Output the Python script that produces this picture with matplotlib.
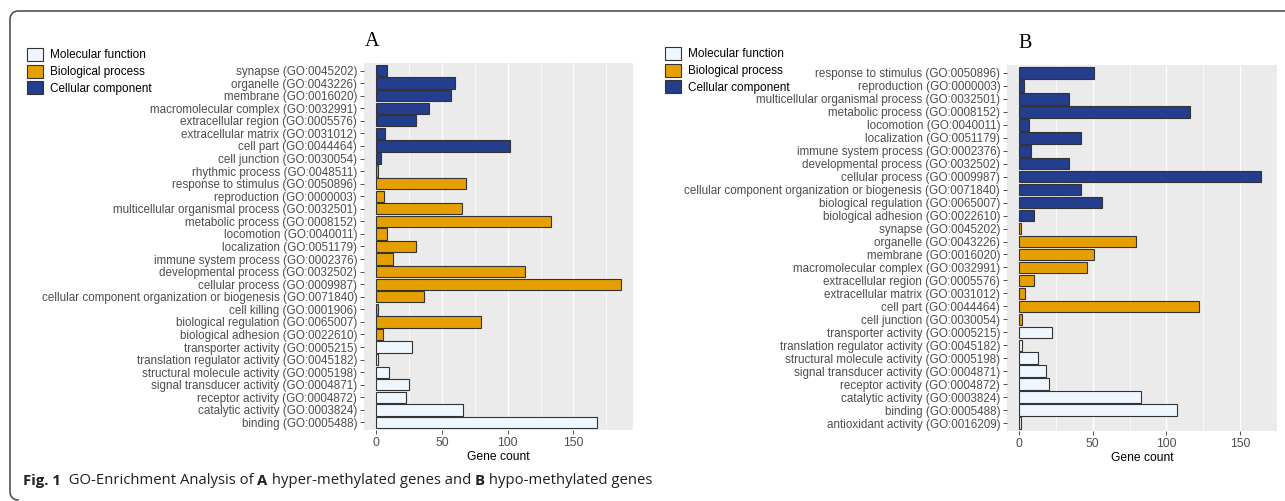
import numpy as np
import matplotlib
matplotlib.use("Agg")
import matplotlib.pyplot as plt
from matplotlib.patches import Patch
from matplotlib.lines import Line2D

# ---- data: panel A (hyper-methylated), listed top to bottom ----
a_terms = ["synapse (GO:0045202)", "organelle (GO:0043226)", "membrane (GO:0016020)",
           "macromolecular complex (GO:0032991)", "extracellular region (GO:0005576)",
           "extracellular matrix (GO:0031012)", "cell part (GO:0044464)",
           "cell junction (GO:0030054)", "rhythmic process (GO:0048511)",
           "response to stimulus (GO:0050896)", "reproduction (GO:0000003)",
           "multicellular organismal process (GO:0032501)", "metabolic process (GO:0008152)",
           "locomotion (GO:0040011)", "localization (GO:0051179)",
           "immune system process (GO:0002376)", "developmental process (GO:0032502)",
           "cellular process (GO:0009987)",
           "cellular component organization or biogenesis (GO:0071840)",
           "cell killing (GO:0001906)", "biological regulation (GO:0065007)",
           "biological adhesion (GO:0022610)", "transporter activity (GO:0005215)",
           "translation regulator activity (GO:0045182)",
           "structural molecule activity (GO:0005198)",
           "signal transducer activity (GO:0004871)", "receptor activity (GO:0004872)",
           "catalytic activity (GO:0003824)", "binding (GO:0005488)"]
a_counts = [8, 60, 57, 40, 30, 7, 102, 4, 1,
            68, 6, 65, 133, 8, 30, 13, 113, 186, 36, 1, 80, 5,
            27, 1, 10, 25, 23, 66, 168]
a_groups = ["CC"] * 8 + ["BP"] * 14 + ["MF"] * 7

# ---- data: panel B (hypo-methylated) ----
b_terms = ["response to stimulus (GO:0050896)", "reproduction (GO:0000003)",
           "multicellular organismal process (GO:0032501)", "metabolic process (GO:0008152)",
           "locomotion (GO:0040011)", "localization (GO:0051179)",
           "immune system process (GO:0002376)", "developmental process (GO:0032502)",
           "cellular process (GO:0009987)",
           "cellular component organization or biogenesis (GO:0071840)",
           "biological regulation (GO:0065007)", "biological adhesion (GO:0022610)",
           "synapse (GO:0045202)", "organelle (GO:0043226)", "membrane (GO:0016020)",
           "macromolecular complex (GO:0032991)", "extracellular region (GO:0005576)",
           "extracellular matrix (GO:0031012)", "cell part (GO:0044464)",
           "cell junction (GO:0030054)", "transporter activity (GO:0005215)",
           "translation regulator activity (GO:0045182)",
           "structural molecule activity (GO:0005198)",
           "signal transducer activity (GO:0004871)", "receptor activity (GO:0004872)",
           "catalytic activity (GO:0003824)", "binding (GO:0005488)",
           "antioxidant activity (GO:0016209)"]
b_counts = [51, 3, 34, 116, 7, 42, 8, 34, 164, 42, 56, 10,
            1, 79, 51, 46, 10, 4, 122, 2,
            22, 2, 13, 18, 20, 83, 107, 1]
# fill colours as drawn in panel B (blue on top block, orange below)
b_groups = ["CC"] * 12 + ["BP"] * 8 + ["MF"] * 8

legend_labels = ["Molecular function", "Biological process", "Cellular component"]
fill = {"MF": "#EEF6FF", "BP": "#E69F00", "CC": "#243D8C"}

W, H = 1285, 501
fig = plt.figure(figsize=(W / 100, H / 100), dpi=100)

# background axes in pixel coordinates for frame and caption
bg = fig.add_axes([0, 0, 1, 1], zorder=-5)
bg.set_xlim(0, W)
bg.set_ylim(H, 0)
bg.axis("off")

# frame: left side and top edge, rounded at the left corners
r = 8
t1 = np.linspace(np.pi, 1.5 * np.pi, 20)
t2 = np.linspace(0.5 * np.pi, np.pi, 20)
fx = np.concatenate([[10 + r], 10 + r + r * np.cos(t2), 10 + r + r * np.cos(t1), [W + 5]])
fy = np.concatenate([[500], 492 + r * np.sin(t2), 11 + r + r * np.sin(t1), [11]])
bg.add_line(Line2D(fx, fy, color="#444444", linewidth=1.1))

label_font = "Liberation Sans"


def px_axes(x0, y0, x1, y1):
    return fig.add_axes([x0 / W, (H - y1) / H, (x1 - x0) / W, (y1 - y0) / H])


def draw_panel(ax, terms, counts, groups, title_x, title_y, title):
    n = len(terms)
    ypos = np.arange(n)
    colors = [fill[g] for g in groups]
    ax.barh(ypos, counts, height=0.9, color=colors, edgecolor="#333333", linewidth=0.8, zorder=3)
    ax.set_ylim(n - 0.4, -0.6)
    top = max(counts)
    ax.set_xlim(-0.05 * top, top * 1.05)
    ax.set_facecolor("#EBEBEB")
    ax.set_xticks([0, 50, 100, 150])
    ax.set_xticks([25, 75, 125, 175], minor=True)
    ax.grid(axis="x", which="major", color="white", linewidth=1.0, zorder=0)
    ax.grid(axis="x", which="minor", color="white", linewidth=0.5, zorder=0)
    ax.set_yticks(ypos)
    ax.set_yticklabels(terms)
    for s in ax.spines.values():
        s.set_visible(False)
    ax.tick_params(axis="both", which="major", length=2.75, width=0.6, color="#333333",
                   labelcolor="#4D4D4D", pad=2.2)
    ax.tick_params(axis="x", which="minor", length=0)
    for t in ax.get_yticklabels():
        t.set_fontsize(8.4)
        t.set_family(label_font)
    for t in ax.get_xticklabels():
        t.set_fontsize(8.7)
        t.set_family(label_font)
    ax.set_xlabel("Gene count", fontsize=8.7, family=label_font, color="black", labelpad=1.5)
    bg.text(title_x, title_y, title, ha="center", va="center", fontsize=14.5,
            family="Liberation Serif", color="black")


ax_a = px_axes(364, 63, 633, 430)
draw_panel(ax_a, a_terms, a_counts, a_groups, 372, 41, "A")
ax_b = px_axes(1007, 65, 1277, 431)
draw_panel(ax_b, b_terms, b_counts, b_groups, 1025, 43, "B")

handles = [Patch(facecolor=fill[g], edgecolor="#333333", linewidth=0.8) for g in ["MF", "BP", "CC"]]
for lx, ly in [(27, 48), (665, 47)]:
    fig.legend(handles, legend_labels, loc="upper left",
               bbox_to_anchor=(lx / W, 1 - ly / H), frameon=False,
               prop={"family": label_font, "size": 8.5},
               handlelength=1.36, handleheight=1.3, labelspacing=0.28,
               handletextpad=0.55, borderpad=0, borderaxespad=0)

# caption with bold pieces
pieces = [("Fig. 1", "bold"), ("  GO-Enrichment Analysis of ", "normal"), ("A", "bold"),
          (" hyper-methylated genes and ", "normal"), ("B", "bold"),
          (" hypo-methylated genes", "normal")]
prev = None
for txt, wt in pieces:
    kw = dict(fontsize=10.7, family="Open Sans", weight=wt, color="#231F20")
    if prev is None:
        prev = bg.text(23, 488, txt, ha="left", va="bottom", **kw)
    else:
        prev = bg.annotate(txt, xy=(1, 0), xycoords=prev, ha="left", va="bottom", **kw)

fig.savefig("out.png", dpi=100)
